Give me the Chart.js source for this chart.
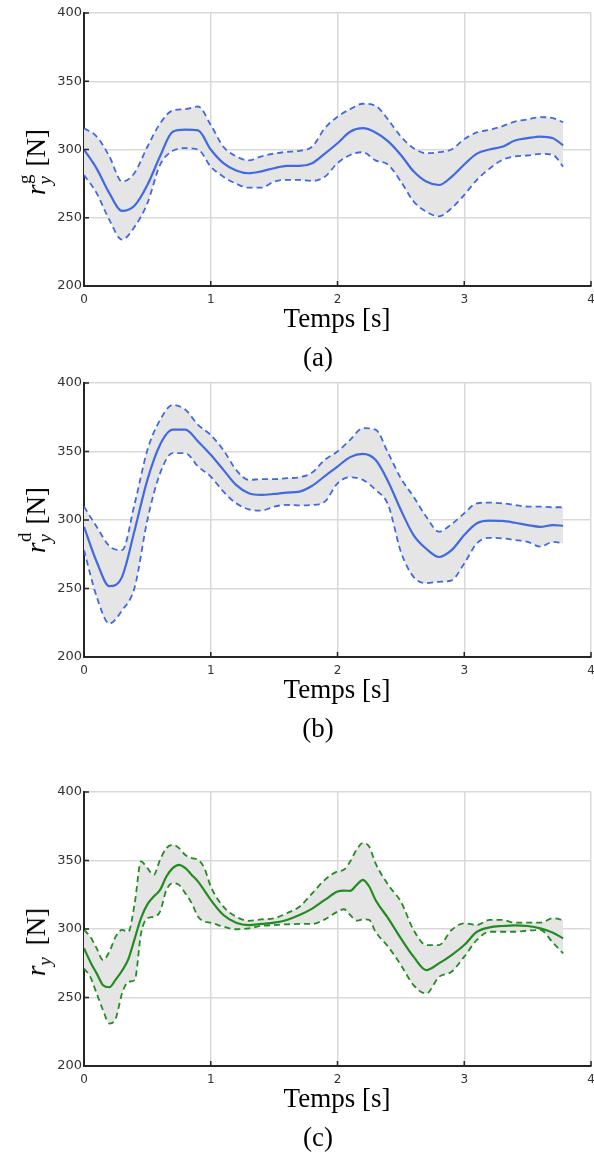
<!DOCTYPE html>
<html>
<head>
<meta charset="utf-8">
<script src="https://cdn.jsdelivr.net/npm/chart.js@4.4.1/dist/chart.umd.min.js"></script>
<style>
  body { margin: 0; background: #fff; width: 594px; height: 1157px; position: relative; overflow: hidden; }
  canvas { position: absolute; left: 0; }
  .t { position: absolute; font-family: "Liberation Serif", serif; font-size: 27px; color: #000;
       white-space: nowrap; line-height: 1; transform: translate(-50%, -50%); }
  .yl { transform: translate(-50%, -50%) rotate(-90deg); }
  .ss { display: inline-block; position: relative; width: 0.42em; height: 1em; }
  .ss .up { position: absolute; left: 0.03em; top: -0.12em; font-size: 0.7em; }
  .ss .dn { position: absolute; left: 0; top: 0.95em; font-size: 0.7em; font-style: italic; }
</style>
</head>
<body>
<canvas id="chartA" width="594" height="310" style="top:0px"></canvas>
<canvas id="chartB" width="594" height="311" style="top:370px"></canvas>
<canvas id="chartC" width="594" height="311" style="top:779px"></canvas>

<div class="t yl" style="left:34px; top:162px"><i>r</i><span class="ss"><span class="up">g</span><span class="dn">y</span></span> [N]</div>
<div class="t" style="left:337px; top:318px">Temps [s]</div>
<div class="t" style="left:318px; top:357px">(a)</div>

<div class="t yl" style="left:34px; top:520px"><i>r</i><span class="ss"><span class="up">d</span><span class="dn">y</span></span> [N]</div>
<div class="t" style="left:337px; top:689px">Temps [s]</div>
<div class="t" style="left:318px; top:728px">(b)</div>

<div class="t yl" style="left:34px; top:942px"><i>r</i><span class="ss" style="width:0.5em"><span class="dn">y</span></span> [N]</div>
<div class="t" style="left:337px; top:1098px">Temps [s]</div>
<div class="t" style="left:318px; top:1137px">(c)</div>

<script>
// tick values
const xTicks = [0, 1, 2, 3, 4];
const yTicks = [200, 250, 300, 350, 400];

// time [s] for panels (a) and (b)
const timeAB = [0, 0.1, 0.2, 0.3, 0.4, 0.5, 0.6, 0.7, 0.8, 0.9,
  1.0, 1.1, 1.2, 1.3, 1.4, 1.5, 1.6, 1.7, 1.8, 1.9,
  2.0, 2.1, 2.2, 2.3, 2.4, 2.5, 2.6, 2.7, 2.8, 2.9,
  3.0, 3.1, 3.2, 3.3, 3.4, 3.5, 3.6, 3.7, 3.78];

// (a) r_y^g
const meanA = [300, 286, 268, 255, 259, 274, 295, 313, 314.5, 314,
  300, 290, 284.6, 282.6, 284, 286.3, 288, 288, 290, 297,
  304.6, 313, 315.6, 312.5, 306, 296, 284, 276.5, 274, 280,
  289, 297, 300, 302, 306.6, 308.3, 309.5, 308.3, 303];
const upperA = [315.6, 309.5, 295, 276.5, 283, 302, 319, 328.6, 329.6, 331.5,
  318, 302, 295, 292, 295, 297, 298.3, 299, 302, 315.6,
  324, 329.6, 333.5, 332, 321.8, 309.5, 301, 297.3, 298, 300,
  307.6, 312.5, 314.4, 317, 320.5, 322, 323.7, 323, 320];
const lowerA = [281.4, 268, 248.4, 234, 243.5, 260.6, 288.8, 299, 301, 300,
  287.5, 280, 275, 272, 272, 276.5, 277.8, 277.8, 277, 280,
  290, 296, 298, 292, 288.8, 276.5, 262, 254.5, 251, 257,
  266.7, 277.8, 286, 292.4, 295, 295.6, 296.8, 296, 287.5];

// (b) r_y^d
const meanB = [295, 269.5, 251.7, 258.5, 292.7, 329.3, 355, 366, 366, 357.3,
  347.6, 336.6, 325.6, 319.5, 318.3, 319, 320, 320.7, 325, 332,
  339, 345.9, 348.3, 343.9, 328, 307.3, 289, 279, 273, 278,
  289, 297.6, 299.5, 299.3, 298, 296.3, 295, 296.3, 295.8];
const upperB = [309.8, 295, 281, 278, 312, 351, 373, 384, 380.5, 369.5,
  362, 351, 336.6, 329.3, 329.8, 329.8, 330.5, 331.2, 334.6, 344,
  350, 358.5, 367, 366, 348.8, 330.5, 317, 302.4, 291.5, 297,
  304.9, 312.2, 312.7, 312.2, 311, 309.8, 309.8, 309.3, 309.3];
const lowerB = [278, 244, 224.4, 234, 251, 300, 334, 348.8, 348.8, 339,
  331.7, 320.7, 312.2, 307.8, 306.8, 309.8, 311, 310.7, 311, 313.4,
  326.8, 331.2, 329.3, 322, 311, 276.8, 258.5, 254, 254.9, 256,
  268.3, 283, 287, 286.6, 285.4, 284, 280.5, 284, 283];

// (c) r_y
const timeC = [0, 0.05, 0.1, 0.15, 0.2, 0.25, 0.3, 0.35, 0.4, 0.45,
  0.5, 0.55, 0.6, 0.65, 0.7, 0.75, 0.8, 0.85, 0.9, 0.95,
  1.0, 1.1, 1.2, 1.3, 1.4, 1.5, 1.6, 1.7, 1.8, 1.9,
  2.0, 2.05, 2.1, 2.15, 2.2, 2.25, 2.3, 2.4, 2.5, 2.6,
  2.7, 2.8, 2.9, 3.0, 3.1, 3.2, 3.3, 3.4, 3.5, 3.6,
  3.7, 3.78];
const meanC = [285.9, 276, 267.6, 259, 257.5, 263, 269.5, 278, 293, 308,
  318, 323.7, 328.5, 338.3, 344.4, 346.8, 344.4, 339.5, 334.6, 328,
  321.2, 310.2, 304.6, 302.9, 303.7, 304.6, 306.6, 310.2, 314.9, 321.2,
  327.3, 328, 327.8, 332, 335.9, 331, 321.2, 307.8, 293.2, 279.8,
  270, 274.9, 281, 288.3, 298, 301.2, 302.2, 302.7, 302.2, 300.5,
  297.3, 293.2];
const upperC = [299.3, 294.4, 285.9, 277.3, 283.4, 294.4, 299.3, 298, 318.8, 349.3,
  344.4, 339.5, 350.5, 359, 361.5, 359, 354, 351.7, 350.5, 344.4,
  331, 316.3, 309, 306, 307, 307.8, 311.5, 316.3, 326, 335.9,
  342, 343.2, 349.3, 357.8, 362.7, 360.2, 348, 332.2, 320, 299.3,
  288.3, 288.3, 299.3, 304.1, 302.9, 306.6, 306.6, 304.6, 304.6, 304.6,
  307.8, 306.6];
const lowerC = [271.2, 265, 252.9, 240.7, 231, 234.6, 252.9, 261.5, 262.7, 296.8,
  307.8, 309, 312.7, 328.5, 333.4, 332.2, 326, 318.8, 309, 305.4,
  304.6, 301.7, 299.8, 300.5, 302.2, 302.9, 303.4, 303.7, 303.7, 307,
  312.7, 314.4, 310.2, 306.1, 307, 306.6, 298, 287, 273.7, 259,
  252.9, 265, 268.8, 279.8, 292, 298, 298, 298, 298.8, 299.3,
  290, 282.2];

const blue = '#4169e1';
const green = '#228b22';
const gridColor = '#d9d9d9';
const axisColor = '#262626';

const pts = (t, v) => t.map((x, i) => ({ x: x, y: v[i] }));

// small tick marks pointing into the plot
const innerTicks = {
  id: 'innerTicks',
  afterDraw(chart) {
    const { ctx, chartArea: a, scales: { x, y } } = chart;
    ctx.save();
    ctx.strokeStyle = axisColor;
    ctx.lineWidth = 1.5;
    ctx.beginPath();
    x.ticks.forEach(t => {
      const px = x.getPixelForValue(t.value);
      ctx.moveTo(px, a.bottom);
      ctx.lineTo(px, a.bottom - 5);
    });
    y.ticks.forEach(t => {
      const py = y.getPixelForValue(t.value);
      ctx.moveTo(a.left, py);
      ctx.lineTo(a.left + 5, py);
    });
    ctx.stroke();
    ctx.restore();
  }
};

function makeChart(id, time, mean, upper, lower, color) {
  return new Chart(document.getElementById(id), {
    type: 'line',
    data: {
      datasets: [
        { data: pts(time, mean), borderColor: color, borderWidth: 2.2, fill: false },
        { data: pts(time, upper), borderColor: color, borderWidth: 1.8, borderDash: [6, 4],
          fill: '+1', backgroundColor: '#e5e5e5' },
        { data: pts(time, lower), borderColor: color, borderWidth: 1.8, borderDash: [6, 4], fill: false }
      ]
    },
    options: {
      responsive: false,
      animation: false,
      layout: { padding: { top: 13, right: 3, left: 0, bottom: 0 }, autoPadding: false },
      elements: { point: { radius: 0 }, line: { cubicInterpolationMode: 'monotone' } },
      plugins: {
        legend: { display: false },
        tooltip: { enabled: false },
        filler: { drawTime: 'beforeDatasetsDraw' }
      },
      scales: {
        x: {
          type: 'linear', min: 0, max: 4,
          afterBuildTicks: s => { s.ticks = xTicks.map(v => ({ value: v })); },
          afterFit: s => { s.height = 24; s.paddingLeft = 0; s.paddingRight = 0; },
          grid: { color: gridColor, lineWidth: 1.5, drawTicks: false },
          border: { color: axisColor, width: 2 },
          ticks: { padding: 7, color: '#333', autoSkip: false, maxRotation: 0,
                   font: { family: 'DejaVu Sans', size: 12 } }
        },
        y: {
          min: 200, max: 400,
          afterBuildTicks: s => { s.ticks = yTicks.map(v => ({ value: v })); },
          afterFit: s => { s.width = 84; s.paddingTop = 0; s.paddingBottom = 0; },
          grid: { color: gridColor, lineWidth: 1.5, drawTicks: false },
          border: { color: axisColor, width: 2 },
          ticks: { padding: 2, color: '#333', font: { family: 'DejaVu Sans', size: 13 } }
        }
      }
    },
    plugins: [innerTicks]
  });
}

makeChart('chartA', timeAB, meanA, upperA, lowerA, blue);
makeChart('chartB', timeAB, meanB, upperB, lowerB, blue);
makeChart('chartC', timeC, meanC, upperC, lowerC, green);
</script>
</body>
</html>
